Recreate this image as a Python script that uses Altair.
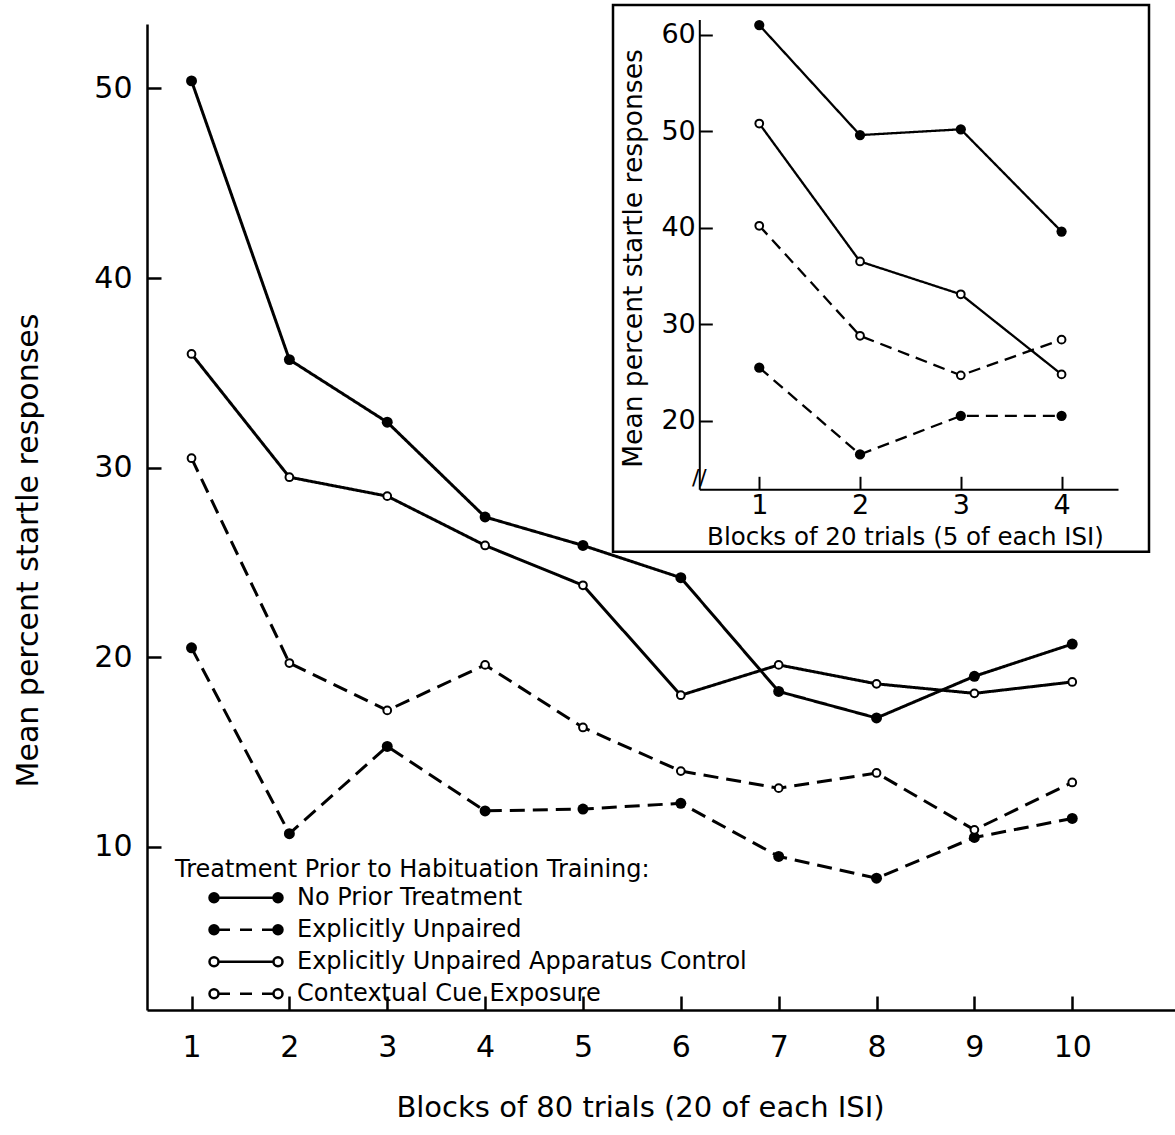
import altair as alt
import pandas as pd

# ---------------- data ----------------
series_names = [
    "No Prior Treatment",
    "Explicitly Unpaired",
    "Explicitly Unpaired Apparatus Control",
    "Contextual Cue Exposure",
]

main_blocks = [1, 2, 3, 4, 5, 6, 7, 8, 9, 10]
main_no_prior = [50.4, 35.7, 32.4, 27.4, 25.9, 24.2, 18.2, 16.8, 19.0, 20.7]
main_unpaired = [20.5, 10.7, 15.3, 11.9, 12.0, 12.3, 9.5, 8.35, 10.5, 11.5]
main_apparatus = [36.0, 29.5, 28.5, 25.9, 23.8, 18.0, 19.6, 18.6, 18.1, 18.7]
main_contextual = [30.5, 19.7, 17.2, 19.6, 16.3, 14.0, 13.1, 13.9, 10.9, 13.4]

inset_blocks = [1, 2, 3, 4]
inset_no_prior = [61.0, 49.6, 50.2, 39.6]
inset_unpaired = [25.5, 16.5, 20.5, 20.5]
inset_apparatus = [50.8, 36.5, 33.1, 24.8]
inset_contextual = [40.2, 28.8, 24.7, 28.4]

main_x_ticks = [1, 2, 3, 4, 5, 6, 7, 8, 9, 10]
main_y_ticks = [10, 20, 30, 40, 50]
inset_x_ticks = [1, 2, 3, 4]
inset_y_ticks = [20, 30, 40, 50, 60]


def to_frame(blocks, lists):
    rows = []
    for name, vals in zip(series_names, lists):
        for b, v in zip(blocks, vals):
            rows.append({"block": b, "value": v, "series": name})
    return pd.DataFrame(rows)


main_df = to_frame(main_blocks, [main_no_prior, main_unpaired, main_apparatus, main_contextual])
inset_df = to_frame(inset_blocks, [inset_no_prior, inset_unpaired, inset_apparatus, inset_contextual])

filled_series = series_names[:2]
open_series = series_names[2:]

# ---------------- layout ----------------
FONT = "DejaVu Sans"
W, H = 1028, 986

main_x_scale = alt.Scale(domain=[0.545, 11.05], nice=False, zero=False)
main_y_scale = alt.Scale(domain=[1.4, 53.4], nice=False, zero=False)

IN_X0, IN_X1 = 552.3, 971.0
IN_Y0, IN_Y1 = 465.3, -4.4
inset_x_scale = alt.Scale(domain=[0.405, 4.56], range=[IN_X0, IN_X1], nice=False, zero=False)
inset_y_scale = alt.Scale(domain=[12.89, 61.57], range=[IN_Y0, IN_Y1], nice=False, zero=False)

main_dash = alt.Scale(domain=series_names, range=[[1, 0], [15, 8], [1, 0], [15, 8]])
inset_dash = alt.Scale(domain=series_names, range=[[1, 0], [12, 7], [1, 0], [12, 7]])

MT = 14   # main tick length
IT = 13   # inset tick length

# ---------------- axes ----------------
main_x_axis = alt.Axis(
    orient="bottom", values=main_x_ticks, ticks=False, tickSize=0, grid=False, zindex=2,
    domainWidth=2.5, labelFontSize=30, labelPadding=22, labelFont=FONT,
    title="Blocks of 80 trials (20 of each ISI)", titleFontSize=29,
    titleX=493, titleY=97, titleBaseline="middle", titleAlign="center",
)
main_y_axis = alt.Axis(
    orient="left", values=main_y_ticks, ticks=False, tickSize=0, grid=False, zindex=2,
    domainWidth=2.5, labelFontSize=30, labelPadding=15, labelFont=FONT,
    title="Mean percent startle responses", titleFontSize=30,
    titleX=-119, titleY=526, titleAngle=270, titleBaseline="middle", titleAlign="center",
)
main_x_ticks_axis = alt.Axis(
    orient="bottom", offset=-MT, values=main_x_ticks, labels=False, domain=False, zindex=2,
    ticks=True, tickSize=MT, tickWidth=2.5, grid=False, title=None,
)
main_y_ticks_axis = alt.Axis(
    orient="left", offset=-MT, values=main_y_ticks, labels=False, domain=False, zindex=2,
    ticks=True, tickSize=MT, tickWidth=2.5, grid=False, title=None,
)

inset_x_axis = alt.Axis(
    orient="bottom", offset=IN_Y0 - H, values=inset_x_ticks, ticks=False, tickSize=0,
    grid=False, zindex=2, domainWidth=2, labelFontSize=27, labelPadding=3, labelFont=FONT,
    title="Blocks of 20 trials (5 of each ISI)", titleFontSize=24.5,
    titleX=758, titleY=48, titleBaseline="middle", titleAlign="center",
)
inset_y_axis = alt.Axis(
    orient="left", offset=-IN_X0, values=inset_y_ticks, ticks=False, tickSize=0,
    grid=False, zindex=2, domainWidth=2, labelFontSize=27, labelPadding=4, labelFont=FONT,
    title="Mean percent startle responses", titleFontSize=26.5,
    titleX=-66, titleY=234, titleAngle=270, titleBaseline="middle", titleAlign="center",
)
inset_x_ticks_axis = alt.Axis(
    orient="bottom", offset=IN_Y0 - H - IT, values=inset_x_ticks, labels=False, domain=False,
    zindex=2, ticks=True, tickSize=IT, tickWidth=2, grid=False, title=None,
)
inset_y_ticks_axis = alt.Axis(
    orient="left", offset=-IN_X0 - IT, values=inset_y_ticks, labels=False, domain=False,
    zindex=2, ticks=True, tickSize=IT, tickWidth=2, grid=False, title=None,
)

# ---------------- legend symbols (custom paths) ----------------
SYM = 95                  # legend symbol box, px
U = 2.0 / SYM             # one pixel in symbol units
rc = 4.5 * U
cc = 32 * U
ein = 27.5 * U


def circle(cx):
    return (f"M{cx + rc:.4f},0A{rc:.4f},{rc:.4f} 0 1,1 {cx - rc:.4f},0"
            f"A{rc:.4f},{rc:.4f} 0 1,1 {cx + rc:.4f},0Z")


solid_path = f"M{-ein:.4f},0L{ein:.4f},0" + circle(-cc) + circle(cc)
dash_segs = [(-27.5, -16), (-6, 6), (16, 27.5)]
dashed_path = "".join(f"M{a * U:.4f},0L{b * U:.4f},0" for a, b in dash_segs) + circle(-cc) + circle(cc)

legend = alt.Legend(
    orient="none", legendX=28, legendY=834, direction="vertical",
    title="Treatment Prior to Habituation Training:", titleFontSize=24, titleFont=FONT,
    titleFontWeight="normal", titleColor="black", titlePadding=0, titleLimit=900,
    labelFontSize=24, labelFont=FONT, labelColor="black", labelLimit=900,
    symbolSize=SYM * SYM, symbolStrokeWidth=2.5, symbolStrokeColor="black", symbolOpacity=1,
    symbolOffset=22, clipHeight=31.5, rowPadding=0, labelOffset=2, padding=0,
)

# ---------------- main chart ----------------
base_main = alt.Chart(main_df)

main_lines = base_main.mark_line(color="black", strokeWidth=3).encode(
    x=alt.X("block:Q", scale=main_x_scale, axis=main_x_axis),
    y=alt.Y("value:Q", scale=main_y_scale, axis=main_y_axis),
    strokeDash=alt.StrokeDash("series:N", scale=main_dash, legend=None),
)
main_filled = base_main.transform_filter(
    alt.FieldOneOfPredicate(field="series", oneOf=filled_series)
).mark_circle(color="black", size=120, opacity=1).encode(
    x=alt.X("block:Q", scale=main_x_scale, axis=main_x_ticks_axis),
    y=alt.Y("value:Q", scale=main_y_scale, axis=main_y_ticks_axis),
)
main_open = base_main.transform_filter(
    alt.FieldOneOfPredicate(field="series", oneOf=open_series)
).mark_point(shape="circle", filled=True, fill="white", stroke="black", strokeWidth=2,
             size=60, opacity=1).encode(
    x=alt.X("block:Q", scale=main_x_scale, axis=None),
    y=alt.Y("value:Q", scale=main_y_scale, axis=None),
)
legend_layer = base_main.transform_filter("datum.value < -1000").mark_point(
    filled=False, stroke="black", strokeWidth=2.5
).encode(
    x=alt.X("block:Q", scale=main_x_scale, axis=None),
    y=alt.Y("value:Q", scale=main_y_scale, axis=None),
    fill=alt.Fill("series:N", scale=alt.Scale(domain=series_names,
                  range=["black", "black", "white", "white"]), legend=legend),
    stroke=alt.Stroke("series:N", scale=alt.Scale(domain=series_names,
                      range=["black", "black", "black", "black"]), legend=legend),
    shape=alt.Shape("series:N", scale=alt.Scale(domain=series_names,
                    range=[solid_path, dashed_path, solid_path, dashed_path]), legend=legend),
)

main = alt.layer(main_lines, main_filled, main_open, legend_layer).resolve_axis(
    x="independent", y="independent"
)

# ---------------- inset chart ----------------
base_inset = alt.Chart(inset_df)

inset_frame = base_inset.transform_aggregate(n="count()").mark_rect(
    fill="white", stroke="black", strokeWidth=2.5
).encode(
    x=alt.value(466), x2=alt.value(1002), y=alt.value(-19), y2=alt.value(527.7),
)
inset_break = base_inset.transform_aggregate(n="count()").mark_text(
    text="//", font=FONT, fontSize=22, color="black", align="center", baseline="middle"
).encode(
    x=alt.value(IN_X0), y=alt.value(IN_Y0 - 11),
)
inset_lines = base_inset.mark_line(color="black", strokeWidth=2.3).encode(
    x=alt.X("block:Q", scale=inset_x_scale, axis=inset_x_axis),
    y=alt.Y("value:Q", scale=inset_y_scale, axis=inset_y_axis),
    strokeDash=alt.StrokeDash("series:N", scale=inset_dash, legend=None),
)
inset_filled = base_inset.transform_filter(
    alt.FieldOneOfPredicate(field="series", oneOf=filled_series)
).mark_circle(color="black", size=105, opacity=1).encode(
    x=alt.X("block:Q", scale=inset_x_scale, axis=inset_x_ticks_axis),
    y=alt.Y("value:Q", scale=inset_y_scale, axis=inset_y_ticks_axis),
)
inset_open = base_inset.transform_filter(
    alt.FieldOneOfPredicate(field="series", oneOf=open_series)
).mark_point(shape="circle", filled=True, fill="white", stroke="black", strokeWidth=2,
             size=60, opacity=1).encode(
    x=alt.X("block:Q", scale=inset_x_scale, axis=None),
    y=alt.Y("value:Q", scale=inset_y_scale, axis=None),
)

inset = alt.layer(inset_frame, inset_break, inset_lines, inset_filled, inset_open).resolve_axis(
    x="independent", y="independent"
)

chart = alt.layer(main, inset).resolve_scale(
    x="independent", y="independent", strokeDash="independent"
).properties(
    width=W, height=H,
    padding={"left": 147, "top": 24, "right": 0, "bottom": 125},
    autosize=alt.AutoSizeParams(type="none"),
    background="white",
).configure_view(stroke=None).configure_axis(
    grid=False, labelColor="black", titleColor="black", domainColor="black",
    tickColor="black", labelFont=FONT, titleFont=FONT, titleFontWeight="normal",
)

chart.save("out.html", embed_options={"renderer": "svg", "actions": False})
